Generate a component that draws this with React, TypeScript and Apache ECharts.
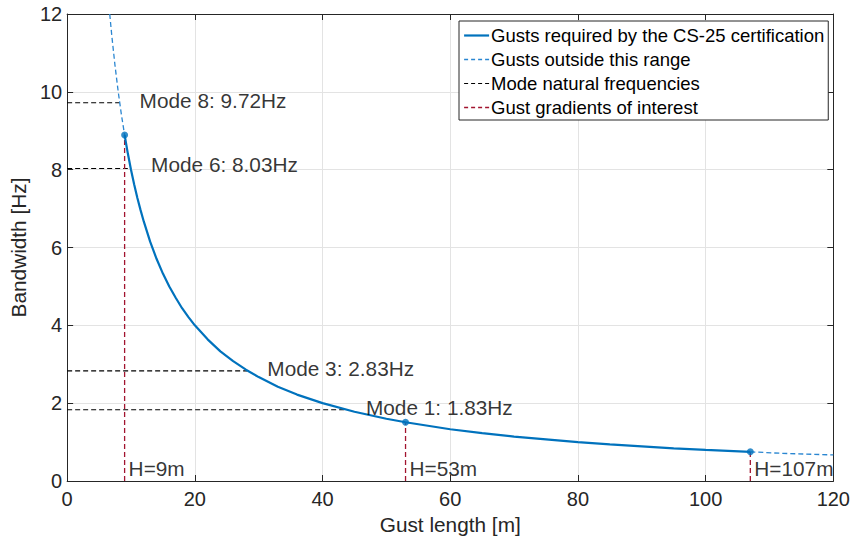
import React, { useEffect, useRef } from "react";
import * as echarts from "echarts";

// Curve: gust length [m] vs bandwidth [Hz]
const curveX = [9, 9.5, 10, 10.5, 11, 11.5, 12, 13, 14, 15, 16, 17, 18, 19, 20, 22, 24, 26, 28, 30, 33, 36, 40, 45, 50, 53, 60, 65, 70, 75, 80, 85, 90, 95, 100, 107];
const curveY = [8.89, 8.42, 8.0, 7.62, 7.27, 6.96, 6.67, 6.15, 5.71, 5.33, 5.0, 4.71, 4.44, 4.21, 4.0, 3.64, 3.33, 3.08, 2.86, 2.67, 2.42, 2.22, 2.0, 1.78, 1.6, 1.51, 1.33, 1.23, 1.14, 1.07, 1.0, 0.94, 0.89, 0.84, 0.8, 0.75];

// Dashed extensions outside the certified range
const upperExtX = [6.67, 7, 7.5, 8, 8.5, 9];
const upperExtY = [12, 11.43, 10.67, 10, 9.41, 8.89];
const lowerExtX = [107, 112, 120];
const lowerExtY = [0.75, 0.71, 0.67];

// Mode natural frequencies
const modeNames = ["Mode 8", "Mode 6", "Mode 3", "Mode 1"];
const modeFreqs = [9.72, 8.03, 2.83, 1.83];
const modeLineEnd = [8.2, 9.5, 28.2, 43.6];
const modeLabelX = [11.35, 13.15, 31.35, 46.8];
const modeLabelY = [9.79, 8.12, 2.88, 1.89];

// Gust gradients of interest
const gustH = [9, 53, 107];
const gustF = [8.89, 1.51, 0.75];
const gustLabelY = 0.33;

const xTicks = { min: 0, max: 120, interval: 20 };
const yTicks = { min: 0, max: 12, interval: 2 };

const S1 = "Gusts required by the CS-25 certification";
const S2 = "Gusts outside this range";
const S3 = "Mode natural frequencies";
const S4 = "Gust gradients of interest";

const FONT = "'Liberation Sans', Arial, Helvetica, sans-serif";
const AX = "#262626";
const BLUE = "#0072BD";
const BLUE_D = "#2a86d1";
const RED = "#A2142F";
const DASH = [5, 3];

export default function App() {
  const ref = useRef<HTMLDivElement>(null);
  useEffect(() => {
    if (!ref.current) return;
    const chart = echarts.init(ref.current, undefined, { renderer: "svg" });

    const series: any[] = [];
    series.push({
      name: S1,
      type: "line",
      data: curveX.map((x, i) => [x, curveY[i]]),
      symbol: "none",
      lineStyle: { color: BLUE, width: 2.2 },
      itemStyle: { color: BLUE },
      z: 5,
    });
    series.push({
      name: S2,
      type: "line",
      data: upperExtX.map((x, i) => [x, upperExtY[i]]),
      symbol: "none",
      lineStyle: { color: BLUE_D, width: 1.3, type: DASH },
      itemStyle: { color: BLUE_D },
      z: 4,
    });
    series.push({
      name: S2,
      type: "line",
      data: lowerExtX.map((x, i) => [x, lowerExtY[i]]),
      symbol: "none",
      lineStyle: { color: BLUE_D, width: 1.3, type: DASH },
      itemStyle: { color: BLUE_D },
      z: 4,
    });
    modeFreqs.forEach((f, i) => {
      series.push({
        name: S3,
        type: "line",
        data: [[0, f], [modeLineEnd[i], f]],
        symbol: "none",
        lineStyle: { color: "#000", width: 1.1, type: DASH },
        itemStyle: { color: "#000" },
        z: 3,
      });
    });
    gustH.forEach((h, i) => {
      series.push({
        name: S4,
        type: "line",
        data: [[h, 0], [h, gustF[i]]],
        symbol: "none",
        lineStyle: { color: RED, width: 1.3, type: DASH },
        itemStyle: { color: RED },
        z: 3,
      });
    });
    series.push({
      name: "markers",
      type: "scatter",
      data: gustH.map((h, i) => [h, gustF[i]]),
      symbol: "circle",
      symbolSize: 7,
      itemStyle: { color: BLUE },
      z: 6,
    });
    series.push({
      name: "modeLabels",
      type: "scatter",
      data: modeLabelX.map((x, i) => ({
        value: [x, modeLabelY[i]],
        label: { formatter: `${modeNames[i]}: ${modeFreqs[i].toFixed(2)}Hz` },
      })),
      symbolSize: 0,
      silent: true,
      label: {
        show: true,
        position: "right",
        distance: 0,
        fontSize: 20.8,
        fontFamily: FONT,
        color: "#000",
      },
      z: 7,
    });
    series.push({
      name: "gustLabels",
      type: "scatter",
      data: gustH.map((h) => ({
        value: [h, gustLabelY],
        label: { formatter: `H=${h}m` },
      })),
      symbolSize: 0,
      silent: true,
      label: {
        show: true,
        position: "right",
        distance: 4,
        fontSize: 20.8,
        fontFamily: FONT,
        color: "#000",
      },
      z: 7,
    });

    const axisCommon = {
      axisLine: { show: true, onZero: false, lineStyle: { color: AX, width: 1 } },
      axisTick: { show: true, inside: true, length: 6, lineStyle: { color: AX, width: 1 } },
    };

    chart.setOption({
      animation: false,
      backgroundColor: "#fff",
      textStyle: { fontFamily: FONT },
      grid: { left: 64, right: 18, top: 14, bottom: 61, containLabel: false },
      legend: {
        orient: "vertical",
        left: 459,
        top: 21,
        padding: [5, 4, 3, 4],
        itemGap: 5,
        itemWidth: 25,
        itemHeight: 14,
        borderColor: AX,
        borderWidth: 1,
        borderRadius: 0,
        backgroundColor: "#fff",
        itemStyle: { opacity: 0 },
        data: [
          { name: S1, itemStyle: { opacity: 0 }, lineStyle: { color: BLUE, width: 2.2 } },
          { name: S2, itemStyle: { opacity: 0 }, lineStyle: { color: BLUE_D, width: 1.3, type: [4, 3] } },
          { name: S3, itemStyle: { opacity: 0 }, lineStyle: { color: "#000", width: 1.1, type: [4, 3] } },
          { name: S4, itemStyle: { opacity: 0 }, lineStyle: { color: RED, width: 1.3, type: [4, 3] } },
        ],
        textStyle: { fontSize: 18.5, color: "#000", fontFamily: FONT, padding: [0, 0, 0, -3] },
        z: 10,
      },
      xAxis: [
        {
          type: "value",
          ...xTicks,
          position: "bottom",
          name: "Gust length [m]",
          nameLocation: "middle",
          nameGap: 28,
          nameTextStyle: { fontSize: 20.8, color: AX, fontFamily: FONT },
          ...axisCommon,
          axisLabel: { fontSize: 20, color: AX, margin: 8, fontFamily: FONT },
          splitLine: { show: true, lineStyle: { color: "#e3e3e3", width: 1 } },
        },
        {
          type: "value",
          ...xTicks,
          position: "top",
          ...axisCommon,
          axisLabel: { show: false },
          splitLine: { show: false },
        },
      ],
      yAxis: [
        {
          type: "value",
          ...yTicks,
          position: "left",
          name: "Bandwidth [Hz]",
          nameLocation: "middle",
          nameGap: 26,
          nameTextStyle: { fontSize: 20.8, color: AX, fontFamily: FONT },
          ...axisCommon,
          axisLabel: { fontSize: 20, color: AX, margin: 5, fontFamily: FONT },
          splitLine: { show: true, lineStyle: { color: "#e3e3e3", width: 1 } },
        },
        {
          type: "value",
          ...yTicks,
          position: "right",
          ...axisCommon,
          axisLabel: { show: false },
          splitLine: { show: false },
        },
      ],
      series,
    });
    return () => chart.dispose();
  }, []);

  return (
    <div
      ref={ref}
      style={{ position: "fixed", left: 0, top: 0, width: 853, height: 542 }}
    />
  );
}
